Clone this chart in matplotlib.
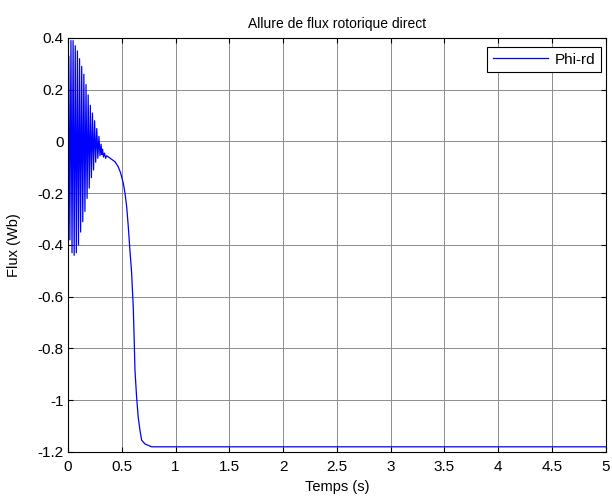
import matplotlib
matplotlib.use("Agg")
import matplotlib.pyplot as plt
import numpy as np

plt.rcParams['font.family'] = ['Liberation Sans', 'DejaVu Sans']

# Oscillating start: peaks and troughs (time s, flux Wb)
peak_t = [0.008, 0.028, 0.048, 0.068, 0.088, 0.108, 0.128, 0.148, 0.168,
          0.188, 0.208, 0.228, 0.248, 0.268, 0.288, 0.308, 0.322]
peak_v = [0.33, 0.39, 0.39, 0.37, 0.35, 0.32, 0.29, 0.26, 0.22,
          0.18, 0.14, 0.11, 0.08, 0.05, 0.02, -0.01, -0.03]
trough_t = [0.018, 0.038, 0.058, 0.078, 0.098, 0.118, 0.138, 0.158, 0.178,
            0.198, 0.218, 0.238, 0.258, 0.278, 0.298, 0.315, 0.330]
trough_v = [-0.38, -0.43, -0.44, -0.43, -0.40, -0.35, -0.31, -0.27, -0.22,
            -0.18, -0.14, -0.11, -0.08, -0.065, -0.055, -0.05, -0.06]

# Decline and steady state
decl_t = [0.340, 0.350, 0.360, 0.390, 0.437, 0.467, 0.490, 0.514, 0.530,
          0.546, 0.561, 0.576, 0.592, 0.607, 0.616, 0.623, 0.638, 0.653,
          0.669, 0.685, 0.716, 0.778, 5.0]
decl_v = [-0.045, -0.065, -0.055, -0.064, -0.078, -0.097, -0.122, -0.160, -0.199,
          -0.252, -0.329, -0.419, -0.508, -0.638, -0.767, -0.883, -0.986, -1.064,
          -1.115, -1.154, -1.169, -1.180, -1.180]

t = [0.0]
v = [0.0]
for pt, pv, tt, tv in zip(peak_t, peak_v, trough_t, trough_v):
    t += [pt, tt]
    v += [pv, tv]
t += decl_t
v += decl_v

fig = plt.figure(figsize=(6.12, 4.98), dpi=100)
ax = fig.add_axes([0.111, 0.0924, 0.879, 0.8313])
ax.plot(t, v, color='#0000ff', lw=0.9, label='Phi-rd')

ax.set_xlim(0, 5)
ax.set_ylim(-1.2, 0.4)
ax.set_xticks(np.arange(0, 5.01, 0.5))
ax.set_xticklabels(['0', '0.5', '1', '1.5', '2', '2.5', '3', '3.5', '4', '4.5', '5'])
ax.set_yticks(np.arange(-1.2, 0.41, 0.2))
ax.set_yticklabels(['-1.2', '-1', '-0.8', '-0.6', '-0.4', '-0.2', '0', '0.2', '0.4'])
ax.grid(True, color='#8c8c8c', linestyle='-', linewidth=0.7)
ax.tick_params(direction='in', top=True, right=True, labelsize=11, length=3.5, width=0.8)
ax.tick_params(axis='x', pad=6)
ax.tick_params(axis='y', pad=3)
for s in ax.spines.values():
    s.set_linewidth(0.8)

ax.set_title('Allure de flux rotorique direct', fontsize=10, pad=7)
ax.set_xlabel('Temps (s)', fontsize=10.5, labelpad=4)
ax.set_ylabel('Flux (Wb)', fontsize=10.5, labelpad=12)

leg = ax.legend(loc='upper right', bbox_to_anchor=(0.990, 0.9775), fontsize=11,
                fancybox=False, framealpha=1, edgecolor='black', borderaxespad=0.0,
                handlelength=3.6, handletextpad=0.45, borderpad=0.35)
leg.get_frame().set_linewidth(0.8)

fig.savefig('out.png', dpi=100)
